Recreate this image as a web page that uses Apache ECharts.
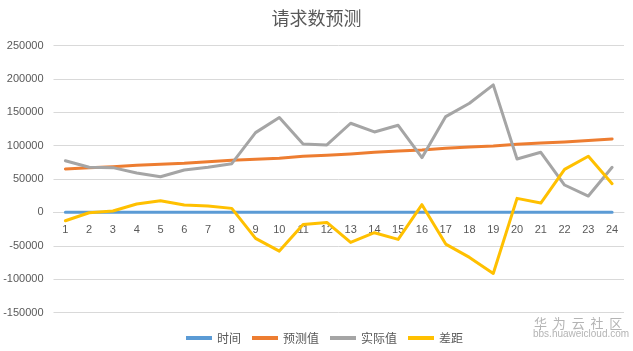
<!DOCTYPE html>
<html>
<head>
<meta charset="utf-8">
<script src="https://cdn.jsdelivr.net/npm/echarts@6/dist/echarts.min.js"></script>
<style>html,body{margin:0;padding:0;background:#fff}#c{width:633px;height:351px}</style>
</head>
<body>
<div id="c"></div>
<script>
var categories = ['1','2','3','4','5','6','7','8','9','10','11','12','13','14','15','16','17','18','19','20','21','22','23','24'];
var timeValues = [1,2,3,4,5,6,7,8,9,10,11,12,13,14,15,16,17,18,19,20,21,22,23,24];
var predicted = [65000,67000,68500,70500,72000,73500,76000,78000,79500,81000,84000,85500,87500,90000,92000,93500,96000,98000,99500,102000,104000,105500,107500,110000];
var actual = [77400,67500,67000,59000,53400,63500,67500,73000,119500,142000,102500,101000,133500,120500,130500,82000,143500,163500,191000,80000,90000,41000,24500,67500];
var diff = [-12500,-500,2000,12500,17500,11000,9500,6000,-39000,-58000,-18000,-15000,-45000,-30500,-40500,11500,-47500,-67500,-91500,21000,14000,64500,84000,43000];
var seriesNames = ['时间','预测值','实际值','差距'];
var colors = ['#5B9BD5','#ED7D31','#A5A5A5','#FFC000'];
var yMin = -150000, yMax = 250000, yStep = 50000;

var chart = echarts.init(document.getElementById('c'));
var numFont = 'Liberation Sans';
var cjkFont = 'Noto Sans CJK SC';
var dataList = [timeValues, predicted, actual, diff];
chart.setOption({
  animation: false,
  color: colors,
  title: {
    text: '请求数预测', left: 'center', top: 4,
    textStyle: {fontFamily: cjkFont, fontSize: 18, fontWeight: 'normal', color: '#595959'}
  },
  legend: {
    bottom: 2, left: 181, icon: 'rect', itemWidth: 26, itemHeight: 4, itemGap: 11,
    data: seriesNames,
    textStyle: {fontFamily: cjkFont, fontSize: 12, color: '#595959'}
  },
  grid: {left: 53.5, right: 9, top: 45.5, bottom: 38.5},
  xAxis: {
    type: 'category', data: categories,
    axisLine: {show: true, onZero: true, lineStyle: {color: '#D9D9D9'}},
    axisTick: {show: false},
    axisLabel: {fontFamily: numFont, fontSize: 11, color: '#595959', margin: -88}
  },
  yAxis: {
    type: 'value', min: yMin, max: yMax, interval: yStep,
    axisLine: {show: false}, axisTick: {show: false},
    axisLabel: {fontFamily: numFont, fontSize: 11, color: '#595959', margin: 10,
      formatter: function (v) { return String(v); }},
    splitLine: {lineStyle: {color: '#D9D9D9', width: 1}}
  },
  graphic: [
    {type: 'text', left: 534, top: 317, style: {text: '华  为  云  社  区', font: '13px "Noto Sans CJK SC"', fill: '#B4B4B4'}},
    {type: 'text', left: 533, top: 329, style: {text: 'bbs.huaweicloud.com', font: '10px "Liberation Sans"', fill: '#B4B4B4'}}
  ],
  series: seriesNames.map(function (n, i) {
    return {
      name: n, type: 'line', data: dataList[i], symbol: 'none',
      lineStyle: {width: 3, color: colors[i], cap: 'round', join: 'round'}
    };
  })
});
</script>
</body>
</html>
